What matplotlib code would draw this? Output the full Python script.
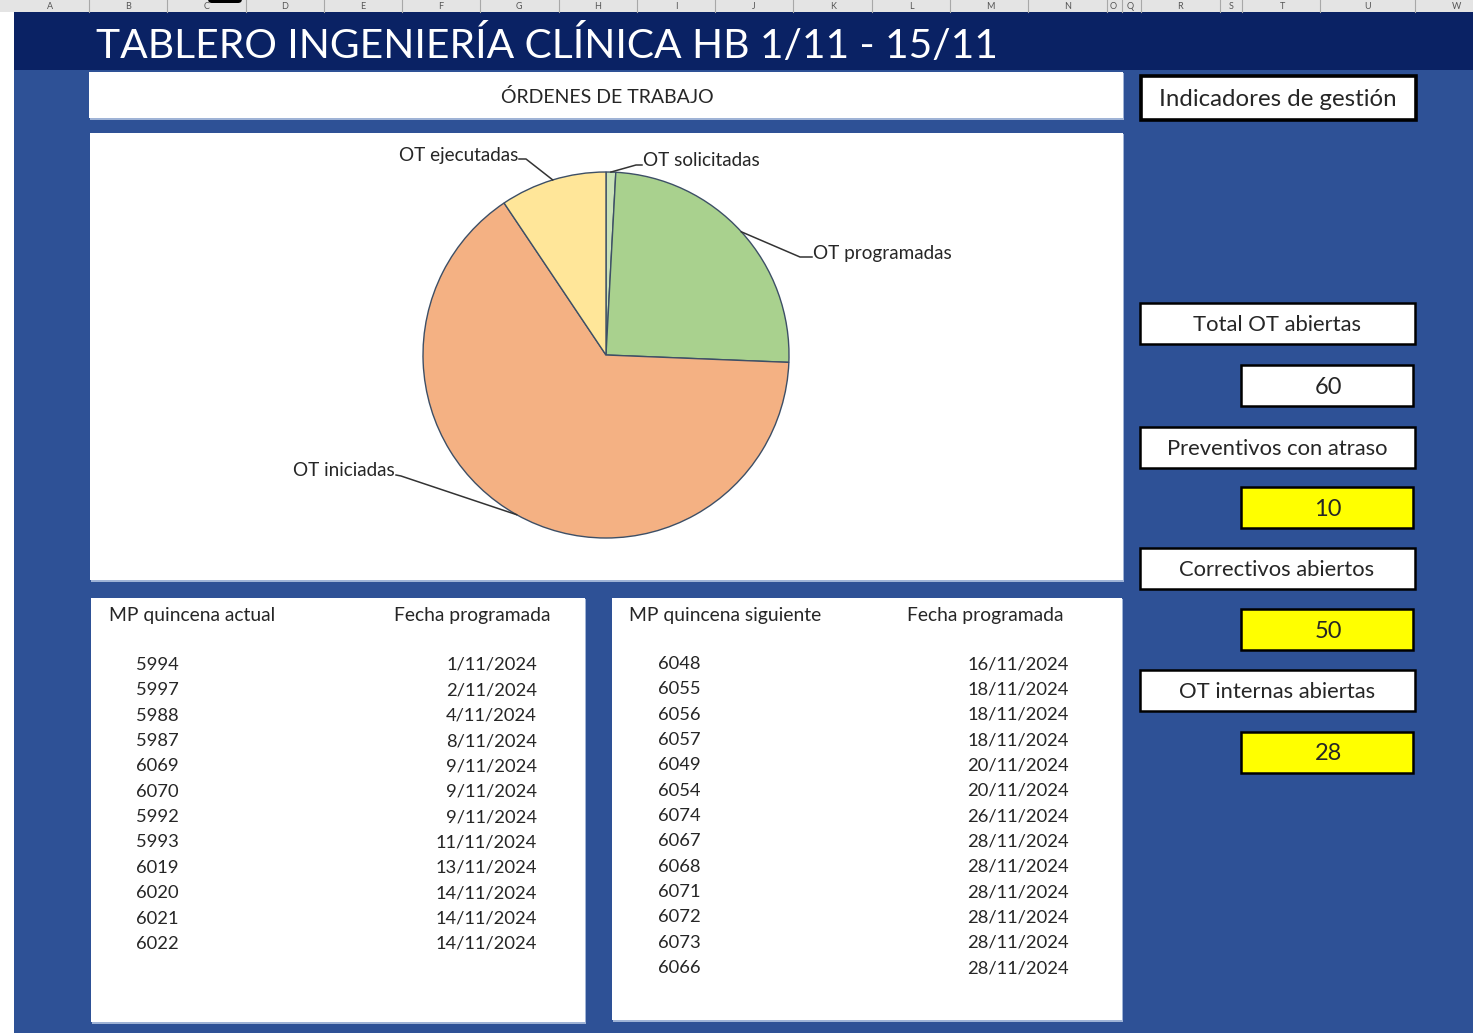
import matplotlib
matplotlib.use("Agg")
import matplotlib.pyplot as plt
from matplotlib.patches import Rectangle, FancyBboxPatch
import numpy as np

# ---------------- data ----------------
title = "TABLERO INGENIERÍA CLÍNICA HB 1/11 - 15/11"
chart_title = "ÓRDENES DE TRABAJO"

pie_labels = ["OT solicitadas", "OT programadas", "OT iniciadas", "OT ejecutadas"]
pie_values = [1, 29, 76, 11]
pie_colors = ["#C9E2B8", "#A9D18E", "#F4B183", "#FFE699"]

actual_header = ["MP quincena actual", "Fecha programada"]
actual_ids = ["5994", "5997", "5988", "5987", "6069", "6070", "5992", "5993",
              "6019", "6020", "6021", "6022"]
actual_dates = ["1/11/2024", "2/11/2024", "4/11/2024", "8/11/2024", "9/11/2024",
                "9/11/2024", "9/11/2024", "11/11/2024", "13/11/2024", "14/11/2024",
                "14/11/2024", "14/11/2024"]

next_header = ["MP quincena siguiente", "Fecha programada"]
next_ids = ["6048", "6055", "6056", "6057", "6049", "6054", "6074", "6067",
            "6068", "6071", "6072", "6073", "6066"]
next_dates = ["16/11/2024", "18/11/2024", "18/11/2024", "18/11/2024", "20/11/2024",
              "20/11/2024", "26/11/2024", "28/11/2024", "28/11/2024", "28/11/2024",
              "28/11/2024", "28/11/2024", "28/11/2024"]

indicators_title = "Indicadores de gestión"
indicator_labels = ["Total OT abiertas", "Preventivos con atraso",
                    "Correctivos abiertos", "OT internas abiertas"]
indicator_values = [60, 10, 50, 28]
indicator_highlight = [False, True, True, True]

col_letters = ["A", "B", "C", "D", "E", "F", "G", "H", "I", "J", "K", "L",
               "M", "N", "O", "Q", "R", "S", "T", "U", "W"]

# ---------------- layout / style ----------------
W, H = 1473, 1033
FONT = ["Lato", "DejaVu Sans"]
NAVY = "#0A2264"
BLUE = "#2E5196"
TXT = "#262626"
DY = 2  # small vertical text offset (px)

fig = plt.figure(figsize=(W / 100, H / 100), dpi=100)
fig.patch.set_facecolor("white")
bg = fig.add_axes([0, 0, 1, 1])
bg.set_xlim(0, W)
bg.set_ylim(H, 0)
bg.axis("off")


def rect(x0, y0, x1, y1, fc, ec="none", lw=0, z=1):
    bg.add_patch(Rectangle((x0, y0), x1 - x0, y1 - y0, facecolor=fc,
                           edgecolor=ec, linewidth=lw, zorder=z))


def txt(x, y, s, size, ha="left", color=TXT):
    bg.text(x, y + DY, s, ha=ha, va="center", fontsize=size, color=color,
            family=FONT, zorder=4)


# column header strip (spreadsheet)
rect(0, 0, W, 12, "#E4E4E4", z=1)
col_x = [50, 128, 207, 285, 363, 441, 519, 598, 676, 754, 833, 911, 990,
         1068, 1113, 1130, 1180, 1231, 1282, 1368, 1457]
sep_x = [89, 167, 246, 324, 402, 480, 559, 637, 715, 793, 872, 950, 1028,
         1107, 1122, 1141, 1220, 1242, 1320, 1415]
for sx in sep_x:
    bg.plot([sx, sx], [0, 12], color="#A8A8A8", lw=0.8, zorder=2)
for cx, letter in zip(col_x, col_letters):
    bg.text(cx, 6.5, letter, ha="center", va="center", fontsize=6.5,
            color="#555555", family=FONT, zorder=3)
bg.add_patch(FancyBboxPatch((208, -6), 34, 9, boxstyle="round,pad=0,rounding_size=4",
                            facecolor="black", edgecolor="none", zorder=4))

# background panels
rect(14, 12, W, 70, NAVY, z=1)
rect(14, 70, W, H, BLUE, z=1)

bg.text(96, 45, title, ha="left", va="center", fontsize=29.3, color="white",
        family=FONT, zorder=3)

# white panels (with thin light shadow)
for (x0, y0, x1, y1) in [(89, 72, 1123, 118), (90, 133, 1123, 580),
                         (91, 598, 585, 1022), (612, 598, 1122, 1020)]:
    rect(x0 + 1, y0 + 1, x1 + 1, y1 + 2, "#9FB3D6", z=2)
    rect(x0, y0, x1, y1, "white", z=3)

txt(607, 95, chart_title, 14, ha="center")


# tables
def draw_table(header, ids, dates, hx0, hx1, hy, idx, datex, y0, dy):
    txt(hx0, hy, header[0], 13.9)
    txt(hx1, hy, header[1], 13.9)
    for i, (a, d) in enumerate(zip(ids, dates)):
        y = y0 + i * dy
        txt(idx, y, a, 13.2)
        txt(datex, y, d, 13.2, ha="right")


draw_table(actual_header, actual_ids, actual_dates, 109, 394, 614, 136, 537, 663, 25.35)
draw_table(next_header, next_ids, next_dates, 629, 907, 613, 658, 1069, 662, 25.35)

# indicators
rect(1141, 76, 1416, 120, "white", ec="black", lw=2.6, z=3)
txt(1278, 97, indicators_title, 17.3, ha="center")

label_y = [303, 427, 548, 670]
value_y = [365, 487, 609, 732]
for lab, val, hl, ly, vy in zip(indicator_labels, indicator_values,
                                 indicator_highlight, label_y, value_y):
    rect(1140, ly, 1415, ly + 41, "white", ec="black", lw=1.8, z=3)
    txt(1277, ly + 20, lab, 15.8, ha="center")
    rect(1241, vy, 1413, vy + 41, "#FFFF00" if hl else "white", ec="black", lw=1.8, z=3)
    txt(1328, vy + 20, str(val), 17, ha="center")

# ---------------- pie ----------------
R = 183.0
CX, CY = 606.0, 355.0
pax = fig.add_axes([(CX - R) / W, (H - CY - R) / H, 2 * R / W, 2 * R / H])
pax.set_zorder(5)
pax.patch.set_alpha(0)
wedges, _ = pax.pie(pie_values, colors=pie_colors, startangle=90, counterclock=False,
                    radius=1, wedgeprops=dict(edgecolor="#3D4F66", linewidth=1.0))
pax.set_xlim(-1, 1)
pax.set_ylim(-1, 1)
pax.axis("off")


def P(px, py):
    return ((px - CX) / R, (CY - py) / R)


# label placement: (text x, text y, ha, leader points before edge)
label_cfg = {
    "OT solicitadas": dict(tx=643, ty=159, ha="left", path=[(642, 165), (636, 165)]),
    "OT programadas": dict(tx=813, ty=251, ha="left", path=[(812, 257), (800, 257)]),
    "OT iniciadas": dict(tx=395, ty=469, ha="right", path=[(396, 475), (401, 476)]),
    "OT ejecutadas": dict(tx=518, ty=153, ha="right", path=[(519, 159), (526, 159)]),
}
for w, lab in zip(wedges, pie_labels):
    ang = np.deg2rad((w.theta1 + w.theta2) / 2)
    ex, ey = np.cos(ang), np.sin(ang)
    cfg = label_cfg[lab]
    pts = [P(*p) for p in cfg["path"]] + [(ex, ey)]
    xs, ys = zip(*pts)
    pax.plot(xs, ys, color="#333333", lw=1.1, clip_on=False, zorder=6)
    tx, ty = P(cfg["tx"], cfg["ty"] + DY)
    pax.text(tx, ty, lab, ha=cfg["ha"], va="center", fontsize=13.6, color=TXT,
             family=FONT, clip_on=False, zorder=6)

fig.savefig("out.png", dpi=100, facecolor=fig.get_facecolor())
